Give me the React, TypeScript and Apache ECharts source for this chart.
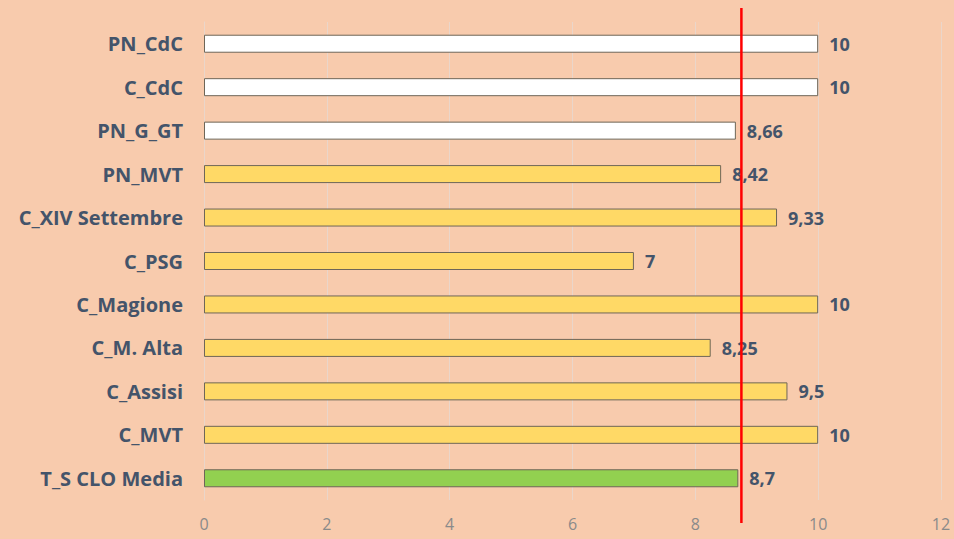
import React, { useEffect, useRef } from "react";
import * as echarts from "echarts";

const categories = [
  "PN_CdC",
  "C_CdC",
  "PN_G_GT",
  "PN_MVT",
  "C_XIV Settembre",
  "C_PSG",
  "C_Magione",
  "C_M. Alta",
  "C_Assisi",
  "C_MVT",
  "T_S CLO Media",
];
const values = [10, 10, 8.66, 8.42, 9.33, 7, 10, 8.25, 9.5, 10, 8.7];
const barColors = [
  "#FFFFFF",
  "#FFFFFF",
  "#FFFFFF",
  "#FFD966",
  "#FFD966",
  "#FFD966",
  "#FFD966",
  "#FFD966",
  "#FFD966",
  "#FFD966",
  "#92D050",
];
const threshold = 8.75;
const xTicks = { min: 0, max: 12, interval: 2 };

export default function App() {
  const ref = useRef<HTMLDivElement>(null);
  useEffect(() => {
    if (!ref.current) return;
    const chart = echarts.init(ref.current, null, { renderer: "svg" });
    const cats = [...categories].reverse();
    const vals = [...values].reverse();
    const cols = [...barColors].reverse();
    chart.setOption({
      animation: false,
      backgroundColor: "#F8CBAD",
      grid: { left: 204, right: 13, top: 22, bottom: 39, containLabel: false },
      xAxis: {
        type: "value",
        min: xTicks.min,
        max: xTicks.max,
        interval: xTicks.interval,
        axisLine: { show: false },
        axisTick: { show: false },
        splitLine: { show: true, lineStyle: { color: "#EAD6CA", width: 1 } },
        axisLabel: {
          color: "#8A8A8A",
          fontSize: 16,
          fontFamily: "Open Sans",
          margin: 16,
        },
      },
      yAxis: {
        type: "category",
        data: cats,
        axisLine: { show: true, lineStyle: { color: "#EAD6CA", width: 1 } },
        axisTick: { show: false },
        axisLabel: {
          color: "#44546A",
          fontSize: 20,
          fontWeight: "bold",
          fontFamily: "Open Sans",
          margin: 21,
        },
      },
      series: [
        {
          type: "bar",
          barWidth: 18,
          data: vals.map((v, i) => ({
            value: v,
            itemStyle: {
              color: cols[i],
              borderColor: "#6E6658",
              borderWidth: 1,
            },
          })),
          label: {
            show: true,
            position: "right",
            distance: 11,
            color: "#44546A",
            fontSize: 18,
            fontWeight: "bold",
            fontFamily: "Open Sans",
            formatter: (p: any) => String(p.value).replace(".", ","),
          },
        },
      ],
    });
    const x = chart.convertToPixel({ xAxisIndex: 0 }, threshold) as number;
    chart.setOption({
      graphic: [
        {
          type: "line",
          z: 100,
          shape: { x1: x, y1: 8, x2: x, y2: 523 },
          style: { stroke: "#FF0000", lineWidth: 2.5 },
        },
      ],
    });
    return () => chart.dispose();
  }, []);
  return (
    <div
      ref={ref}
      style={{ position: "fixed", left: 0, top: 0, width: 954, height: 539 }}
    />
  );
}
